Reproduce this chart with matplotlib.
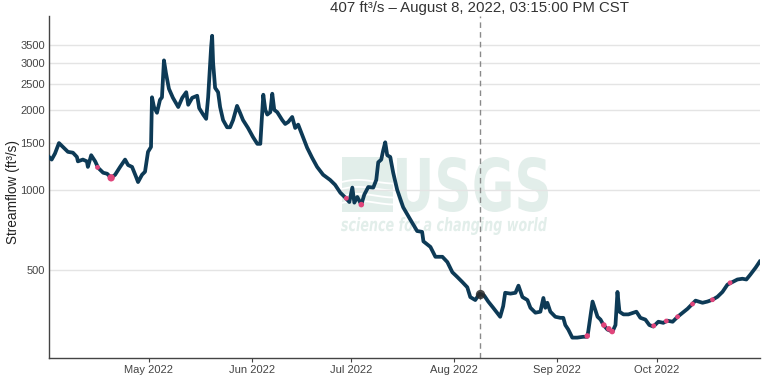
import numpy as np
import pandas as pd
import matplotlib
matplotlib.use('Agg')
import matplotlib.pyplot as plt
import matplotlib.dates as mdates
from matplotlib.textpath import TextPath
from matplotlib.font_manager import FontProperties
from matplotlib.patches import PathPatch, Rectangle
from matplotlib.path import Path

plt.rcParams['font.family'] = ['Liberation Sans', 'DejaVu Sans']

# days since 2022-04-01 and streamflow (ft3/s)
days = [0.0, 0.8, 1.8, 3.0, 4.2, 5.7, 7.2, 8.4, 8.7, 10.2, 11.4, 11.7, 12.7, 13.9, 14.8,
        16.3, 17.5, 18.7, 19.9, 21.4, 22.9, 23.8, 25.0, 26.2, 26.8, 28.0, 28.9, 29.8,
        30.7, 31.0, 31.6, 32.5, 33.4, 34.0, 34.6, 35.2, 36.1, 37.3, 38.9, 40.1, 41.3,
        41.9, 43.1, 44.6, 45.2, 46.4, 47.3, 47.9, 48.8, 49.1, 49.4, 50.0, 50.9, 51.5,
        52.4, 53.6, 54.5, 55.4, 56.6, 57.5, 58.4, 59.9, 61.4, 62.7, 63.6, 64.5, 65.1,
        65.7, 66.6, 67.2, 67.8, 68.7, 70.2, 71.1, 72.0, 73.2, 74.1, 75.0, 76.2, 77.7,
        79.2, 80.7, 82.5, 84.6, 86.1, 87.7, 89.2, 90.4, 91.3, 91.9, 92.8, 94.0, 94.9,
        96.1, 97.6, 98.5, 99.1, 100.0, 100.6, 101.2, 101.8, 102.7, 103.6, 104.8, 106.6,
        108.7, 110.8, 112.3, 112.7, 114.8, 116.3, 118.4, 119.9, 121.4, 122.9, 124.4,
        125.9, 126.8, 128.3, 129.2, 129.6, 131.0, 132.2, 133.7, 135.8, 136.7, 137.3,
        138.9, 140.4, 141.3, 142.5, 144.0, 144.9, 146.4, 147.9, 148.8, 149.4, 150.0,
        150.9, 152.4, 153.9, 154.8, 155.4, 156.3, 157.5, 159.0, 160.8, 162.0, 162.3,
        163.6, 163.9, 165.1, 166.0, 166.9, 168.1, 169.6, 170.5, 171.1, 171.7, 172.9,
        174.4, 175.9, 176.8, 178.0, 179.5, 180.7, 181.9, 183.4, 184.9, 186.1, 187.7,
        189.2, 190.7, 192.2, 193.7, 194.6, 196.7, 198.2, 199.7, 201.2, 202.7, 204.2,
        205.7, 207.2, 208.7, 209.9, 211.1, 212.7, 213.9]
flows = [1330, 1300, 1370, 1500, 1450, 1390, 1380, 1330, 1280, 1300, 1280, 1220, 1350, 1280, 1210,
         1160, 1150, 1110, 1140, 1220, 1300, 1240, 1220, 1120, 1070, 1140, 1170, 1390,
         1450, 2230, 2050, 1950, 2180, 2230, 3070, 2750, 2400, 2220, 2050, 2220, 2330,
         2090, 2220, 2260, 2030, 1920, 1850, 2230, 3450, 3800, 3000, 2420, 2330, 2050,
         1830, 1720, 1720, 1830, 2070, 1950, 1830, 1710, 1580, 1490, 1490, 2280, 2000,
         1920, 1960, 2300, 2000, 1960, 1830, 1770, 1800, 1880, 1710, 1760, 1610, 1440,
         1320, 1220, 1140, 1090, 1045, 975, 935, 900, 1020, 895, 940, 880, 960,
         1025, 1020, 1090, 1270, 1300, 1410, 1510, 1350, 1330, 1160, 1000, 860,
         775, 700, 695, 640, 610, 560, 560, 535, 490, 470, 450,
         430, 395, 385, 400, 407, 400, 380, 360, 333, 365, 410,
         407, 410, 436, 395, 385, 360, 345, 348, 392, 360, 376,
         348, 333, 330, 330, 310, 298, 278, 278, 280, 280, 293,
         380, 370, 333, 325, 310, 298, 293, 310, 413, 348, 340,
         340, 345, 348, 330, 325, 310, 306, 319, 316, 322, 319,
         333, 345, 357, 373, 383, 376, 380, 386, 396, 413, 440,
         450, 460, 463, 460, 480, 510, 537]

# flagged readings (pink)
flag_days = [14.6, 18.7, 89.5, 94.0, 162.0, 167.0, 168.5, 169.5, 182.0, 185.8, 189.2, 193.7, 199.7, 205.0]
flag_flows = [1215, 1110, 930, 880, 282, 310, 300, 293, 308, 321, 333, 372, 386, 447]
flag_sizes = [3, 7, 3, 4, 4, 4, 4, 4, 3, 3, 3, 3, 3, 3]

hover_day = 129.64
hover_flow = 407
y_ticks = [500, 1000, 1500, 2000, 2500, 3000, 3500]

start = pd.Timestamp('2022-04-01')
dates = start + pd.to_timedelta(days, unit='D')
flag_dates = start + pd.to_timedelta(flag_days, unit='D')
hover_date = start + pd.to_timedelta(hover_day, unit='D')

fig = plt.figure(figsize=(7.63, 3.77), dpi=100)
ax = fig.add_axes([49/763, 1 - 358/377, 711/763, 342/377])

ax.set_yscale('log')
ax.set_ylim(233, 4510)
ax.set_xlim(pd.Timestamp('2022-04-01'), pd.Timestamp('2022-11-01'))

# USGS watermark
wm = '#e2eeea'
def stamp(text, x0, x1, y0, y1, style='normal'):
    tp = TextPath((0, 0), text, size=1,
                  prop=FontProperties(family='DejaVu Sans', weight='bold', style=style))
    ext = tp.get_extents()
    v = tp.vertices.copy()
    v[:, 0] = x0 + (v[:, 0] - ext.x0) / ext.width * (x1 - x0)
    v[:, 1] = y0 + (v[:, 1] - ext.y0) / ext.height * (y1 - y0)
    ax.add_patch(PathPatch(Path(v, tp.codes), transform=fig.transFigure,
                           facecolor=wm, edgecolor='none', zorder=0.3, clip_on=False))

stamp('USGS', 397/763, 548/763, 1 - 212/377, 1 - 157/377)
stamp('science for a changing world', 341/763, 547/763, 1 - 235/377, 1 - 217/377, style='italic')
ax.add_patch(Rectangle((342/763, 1 - 212/377), 51/763, 55/377, transform=fig.transFigure,
                       facecolor=wm, edgecolor='none', zorder=0.3, clip_on=False))
t = np.linspace(0, 1, 60)
for k in range(4):
    xs = 342/763 + t * 51/763
    ys = 1 - (182 + k * 7)/377 + 0.012 * np.sin(np.pi * t) * (1 - t) - 0.004 * t
    ax.plot(xs, ys, color='white', lw=1.3, transform=fig.transFigure, zorder=0.35, clip_on=False)

ax.set_axisbelow(True)
ax.grid(axis='y', color='#e4e4e4', lw=1.0)
ax.grid(axis='x', visible=False)

ax.plot(dates, flows, color='#0d3a56', lw=2.7, solid_joinstyle='round', zorder=3)
ax.scatter(flag_dates, flag_flows, s=np.array(flag_sizes) * 4, color='#e0457b', zorder=4, lw=0)
ax.scatter([hover_date], [hover_flow], s=45, color='#2a2a2a', alpha=0.85, zorder=5, lw=0)

ax.axvline(hover_date, color='#8a8a8a', lw=1.0, ls=(0, (4, 3)), zorder=2)

ax.yaxis.set_major_locator(matplotlib.ticker.FixedLocator(y_ticks))
ax.yaxis.set_minor_locator(matplotlib.ticker.NullLocator())
ax.yaxis.set_major_formatter(matplotlib.ticker.FuncFormatter(lambda v, p: f'{v:.0f}'))
ax.tick_params(axis='y', length=0, pad=3, labelsize=8, labelcolor='#444444')

ax.xaxis.set_major_locator(mdates.MonthLocator(bymonth=[5, 6, 7, 8, 9, 10]))
ax.xaxis.set_major_formatter(mdates.DateFormatter('%b %Y'))
ax.tick_params(axis='x', length=3, width=0.8, color='#444444', pad=2, labelsize=8, labelcolor='#444444')

for s in ['top', 'right']:
    ax.spines[s].set_visible(False)
for s in ['left', 'bottom']:
    ax.spines[s].set_color('#444444')
    ax.spines[s].set_linewidth(1.0)

ax.set_ylabel('Streamflow (ft\u00b3/s)', fontsize=9.8, color='#222222')
ax.yaxis.set_label_coords(-29/711, 0.485)
fig.text(480/763, 1 - 8/377, '407 ft\u00b3/s \u2013 August 8, 2022, 03:15:00 PM CST',
         ha='center', va='center', fontsize=10.8, color='#333333')

fig.savefig('out.png', dpi=100)
